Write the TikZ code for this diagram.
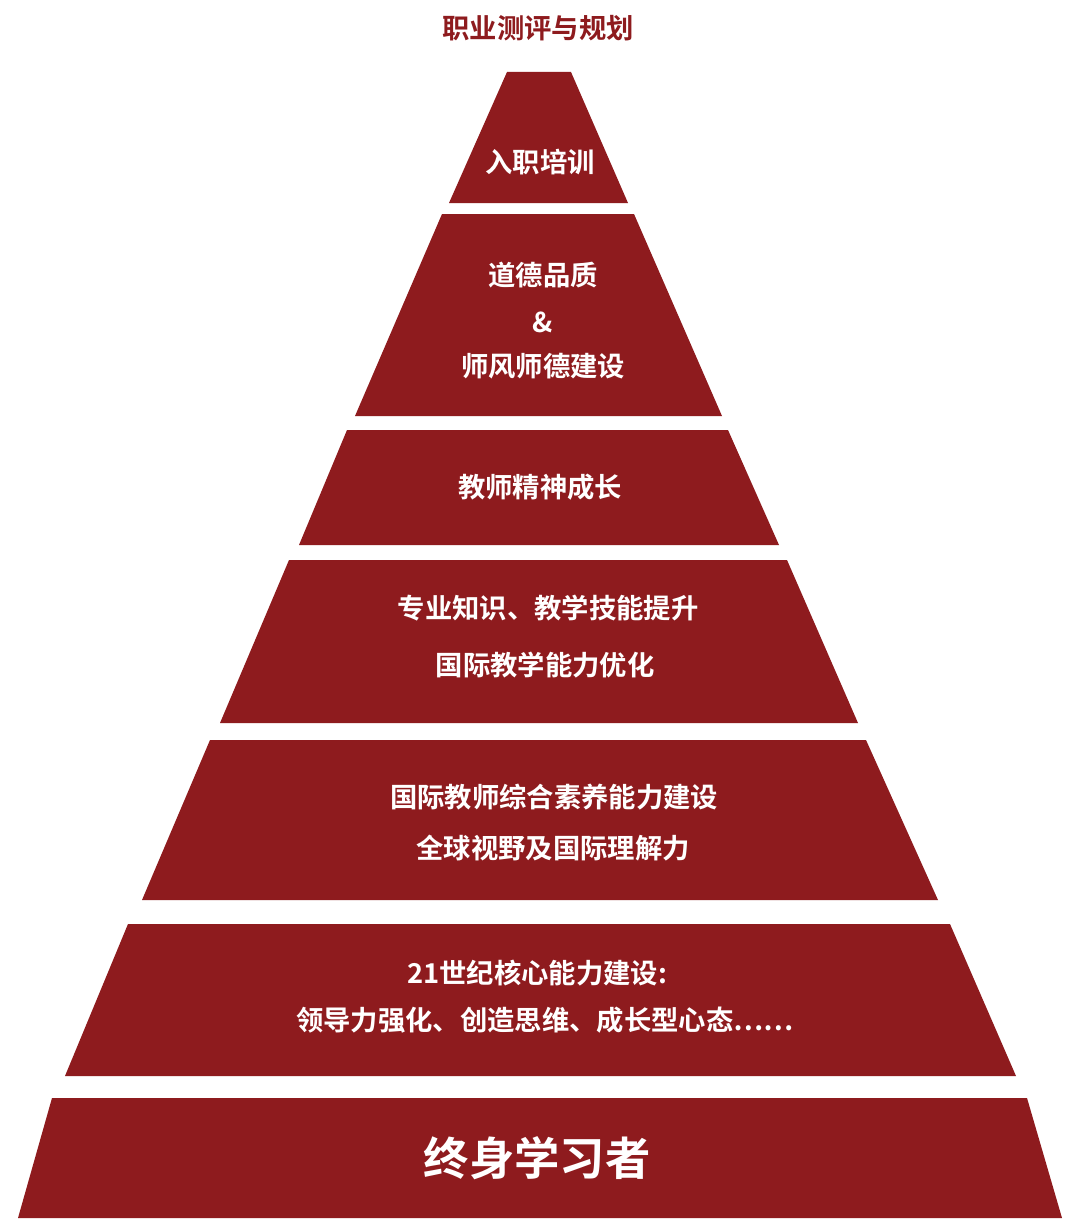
\documentclass[tikz,border=0pt]{standalone}
\usepackage{fontspec}
\newfontfamily\cjk{Noto Sans CJK SC Bold}
\definecolor{pyr}{HTML}{8E1B1E}
\begin{document}
\begin{tikzpicture}[x=0.75pt,y=-0.75pt,
  band/.style={fill=pyr},
  lbl/.style={text=white,font=\cjk\fontsize{20.5}{24}\selectfont,inner sep=0pt}]
\useasboundingbox (0,0) rectangle (1080,1220);
\fill[white] (0,0) rectangle (1080,1220);
\fill[band] (507,72) -- (571,72) -- (628,203) -- (449,203) -- cycle;
\fill[band] (442,214) -- (634,214) -- (722,416) -- (355,416) -- cycle;
\fill[band] (347,430) -- (728,430) -- (779,545) -- (299,545) -- cycle;
\fill[band] (289,560) -- (787,560) -- (858,723) -- (220,723) -- cycle;
\fill[band] (210,740) -- (866,740) -- (938,900) -- (142,900) -- cycle;
\fill[band] (128,924) -- (950,924) -- (1016,1076) -- (65,1076) -- cycle;
\fill[band] (52,1098) -- (1027,1098) -- (1062,1218) -- (18,1218) -- cycle;
\node[lbl,text=pyr] (title) at (538,28) {职业测评与规划};
\node[lbl] (t1) at (540,162) {入职培训};
\node[lbl] (t2a) at (543,275) {道德品质};
\node[lbl] (t2b) at (543,322) {\&};
\node[lbl] (t2c) at (543,366) {师风师德建设};
\node[lbl] (t3) at (540,487) {教师精神成长};
\node[lbl] (t4a) at (548,608) {专业知识、教学技能提升};
\node[lbl] (t4b) at (545,665) {国际教学能力优化};
\node[lbl] (t5a) at (554,797) {国际教师综合素养能力建设};
\node[lbl] (t5b) at (553,848) {全球视野及国际理解力};
\node[lbl] (t6a) at (537,973) {21世纪核心能力建设:};
\node[lbl] (t6b) at (545,1020) {领导力强化、创造思维、成长型心态……};
\node[lbl,font=\cjk\fontsize{34}{40}\selectfont] (t7) at (537,1158) {终身学习者};
\end{tikzpicture}
\end{document}
